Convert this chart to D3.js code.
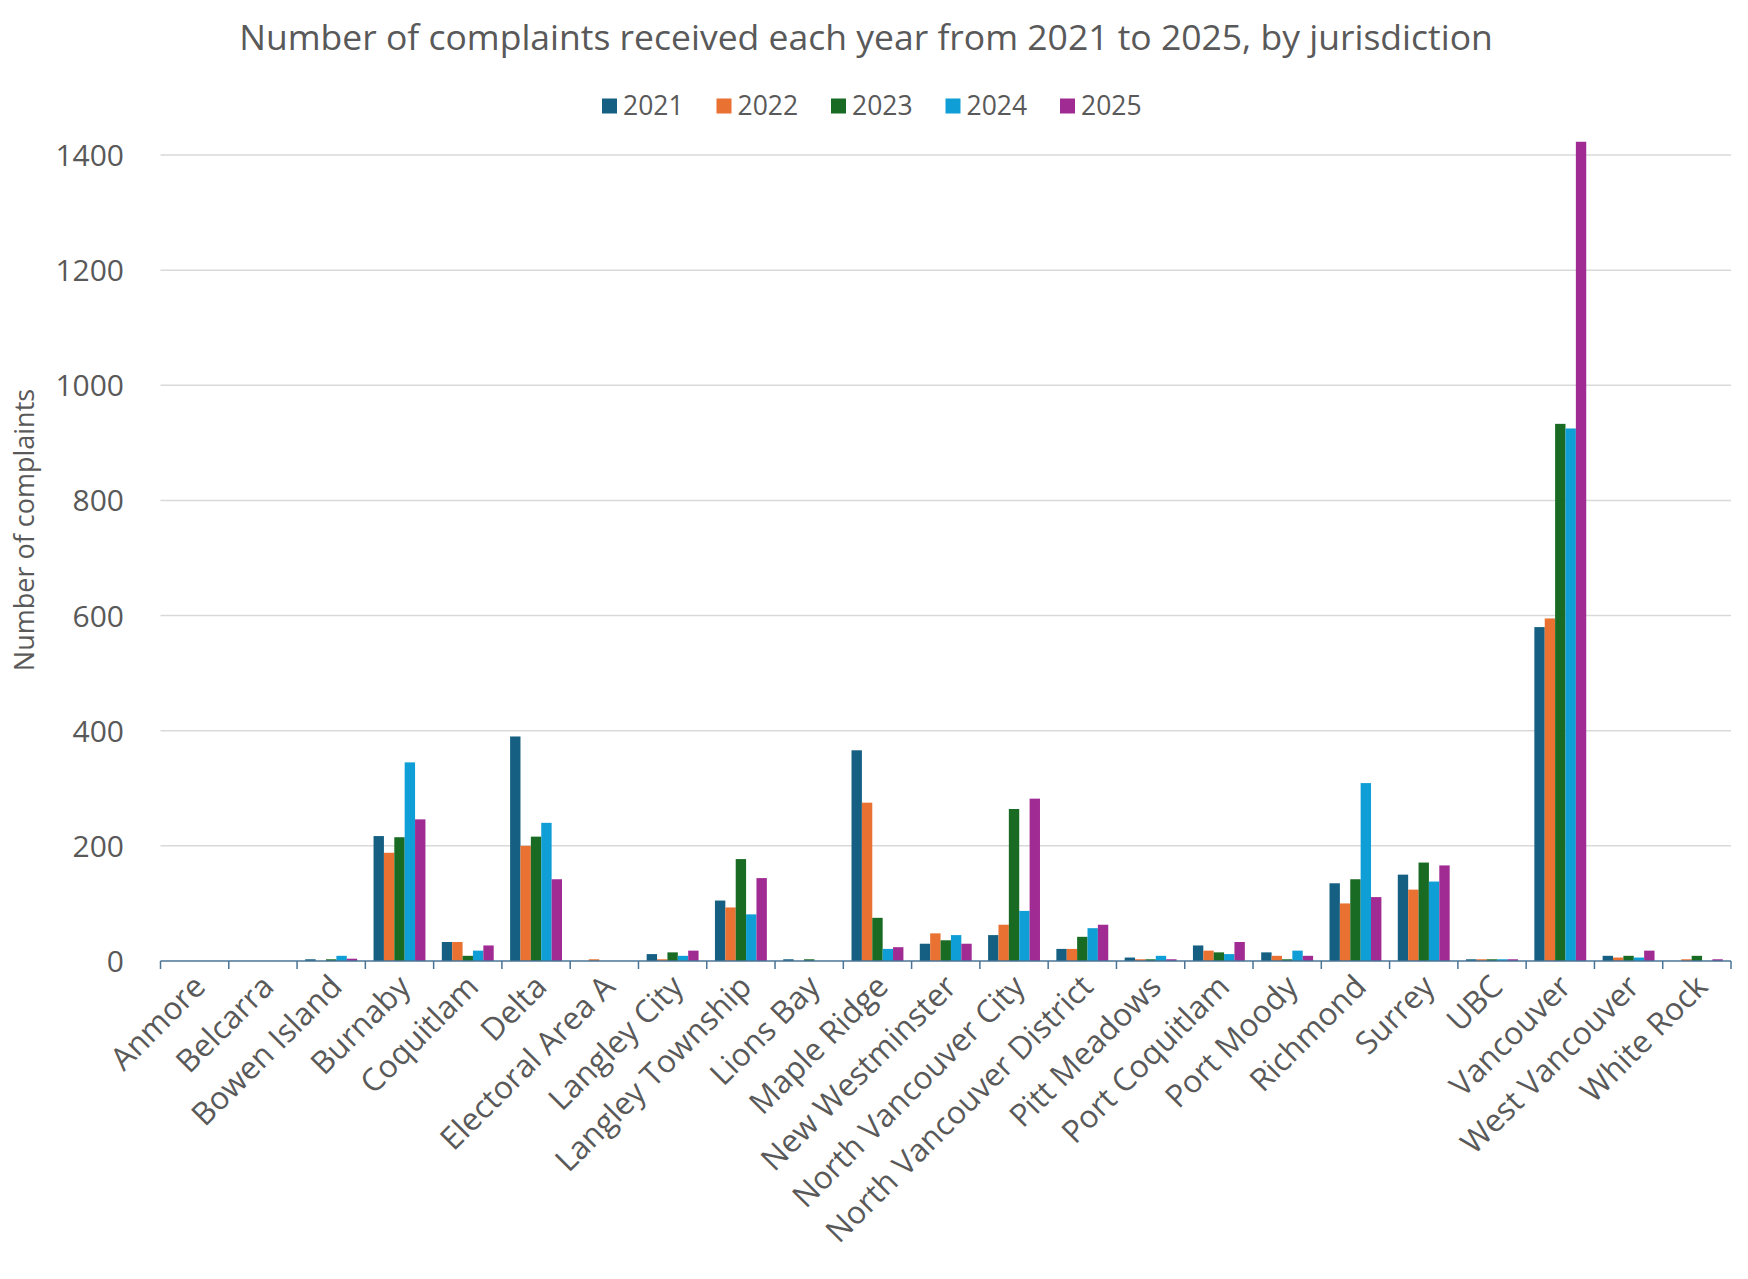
<!DOCTYPE html>
<html>
<head>
<meta charset="utf-8">
<script src="https://cdn.jsdelivr.net/npm/d3@7"></script>
<style>
  html, body { margin: 0; padding: 0; background: #ffffff; }
  svg { display: block; }
  text { font-family: "Open Sans", "Noto Sans", sans-serif; fill: #595959; }
</style>
</head>
<body>
<svg id="chart" width="1748" height="1279"></svg>
<script>
const categories = ["Anmore","Belcarra","Bowen Island","Burnaby","Coquitlam","Delta","Electoral Area A","Langley City","Langley Township","Lions Bay","Maple Ridge","New Westminster","North Vancouver City","North Vancouver District","Pitt Meadows","Port Coquitlam","Port Moody","Richmond","Surrey","UBC","Vancouver","West Vancouver","White Rock"];
const years = ["2021","2022","2023","2024","2025"];
const values2021 = [0,0,3,217,33,390,0,12,105,3,366,30,45,21,6,27,15,135,150,3,580,9,0];
const values2022 = [0,0,0,188,33,200,3,3,93,0,275,48,63,21,3,18,9,100,124,3,595,6,3];
const values2023 = [0,0,3,215,9,216,0,15,177,3,75,36,264,42,3,15,3,142,171,3,933,9,9];
const values2024 = [0,0,9,345,18,240,0,9,81,0,21,45,87,57,9,12,18,309,138,3,925,6,0];
const values2025 = [0,0,4,246,27,142,0,18,144,0,24,30,282,63,3,33,9,111,166,3,1423,18,3];
const yTicks = [0,200,400,600,800,1000,1200,1400];
const colors = ["#156082","#E97132","#196B24","#0F9ED5","#A02B93"];
const titleText = "Number of complaints received each year from 2021 to 2025, by jurisdiction";
const yTitle = "Number of complaints";

(function () {
const series = [values2021, values2022, values2023, values2024, values2025];

const svg = d3.select("#chart");
const pLeft = 160.5, pRight = 1731, pTop = 155, pBottom = 961;

const x = d3.scaleBand().domain(categories).range([pLeft, pRight]).paddingInner(0.24).paddingOuter(0.12);
const xi = d3.scaleBand().domain(years).range([0, x.bandwidth()]).padding(0);
const y = d3.scaleLinear().domain([0, 1400]).range([pBottom, pTop]);
const color = d3.scaleOrdinal().domain(years).range(colors);

// gridlines
svg.append("g").selectAll("line").data(yTicks.filter(d => d > 0)).join("line")
  .attr("x1", pLeft).attr("x2", pRight)
  .attr("y1", d => y(d)).attr("y2", d => y(d))
  .attr("stroke", "#d9d9d9").attr("stroke-width", 1.5);

// y axis labels
const yAxis = d3.axisLeft(y).tickValues(yTicks).tickSize(0).tickPadding(0).tickFormat(d3.format("d"));
const gy = svg.append("g").attr("transform", `translate(124,0)`).call(yAxis);
gy.select(".domain").remove();
gy.selectAll("text").style("font-size", "30px").attr("fill", "#595959")
  .style("font-family", '"Open Sans", sans-serif').attr("dy", "0.35em");

// bars
const groups = svg.append("g").selectAll("g").data(categories).join("g")
  .attr("transform", d => `translate(${x(d)},0)`);
groups.selectAll("rect").data((c, i) => years.map((yr, k) => ({yr, v: series[k][i]}))).join("rect")
  .attr("x", d => xi(d.yr))
  .attr("width", xi.bandwidth())
  .attr("y", d => y(d.v))
  .attr("height", d => y(0) - y(d.v))
  .attr("fill", d => color(d.yr));

// x axis
const xAxis = d3.axisBottom(x).tickSize(0).tickFormat("");
const gx = svg.append("g").attr("transform", `translate(0,${pBottom})`).call(xAxis);
gx.select(".domain").attr("stroke", "#4a7394").attr("stroke-width", 1.5).attr("d", `M${pLeft},0H${pRight}`);
const step = x.step();
svg.append("g").selectAll("line").data(d3.range(categories.length + 1)).join("line")
  .attr("x1", i => pLeft + i * step).attr("x2", i => pLeft + i * step)
  .attr("y1", pBottom).attr("y2", pBottom + 8)
  .attr("stroke", "#4a7394").attr("stroke-width", 1.5);

// x labels
svg.append("g").selectAll("text").data(categories).join("text")
  .attr("transform", d => `translate(${x(d) + x.bandwidth() / 2 - 3},${pBottom + 12}) rotate(-45)`)
  .attr("text-anchor", "end")
  .attr("dy", "0.7em")
  .style("font-size", "31.5px")
  .text(d => d);

// y title
svg.append("text")
  .attr("transform", `translate(34,530) rotate(-90)`)
  .attr("text-anchor", "middle")
  .style("font-size", "27px")
  .text(yTitle);

// title
svg.append("text")
  .attr("x", 866).attr("y", 50)
  .attr("text-anchor", "middle")
  .style("font-size", "35.5px")
  .text(titleText);

// legend
const legend = svg.append("g").selectAll("g").data(years).join("g")
  .attr("transform", (d, i) => `translate(${602 + i * 114.5},106)`);
legend.append("rect").attr("x", 0).attr("y", -7.5).attr("width", 15).attr("height", 15)
  .attr("fill", d => color(d));
legend.append("text").attr("x", 21).attr("y", 0).attr("dy", "0.35em")
  .style("font-size", "26.5px").text(d => d);
})();
</script>
</body>
</html>
